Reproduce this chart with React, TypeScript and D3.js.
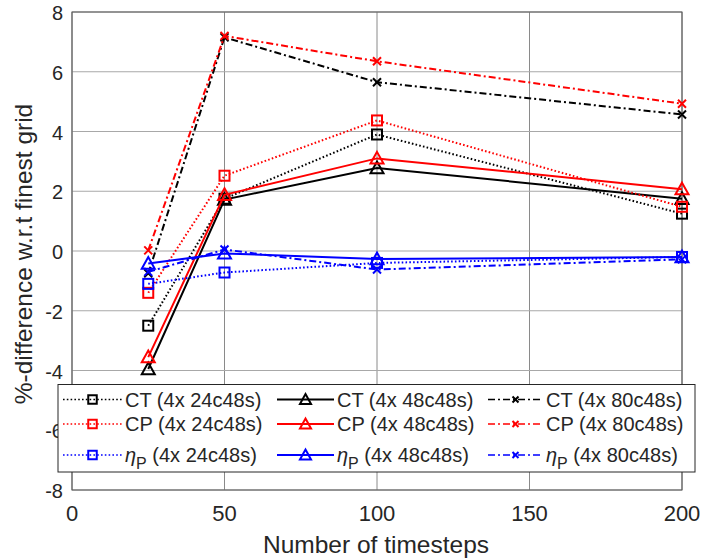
import React from "react";
import * as d3 from "d3";

const xs = [25, 50, 100, 200];
const ct24 = [-2.5, 1.75, 3.9, 1.25];
const cp24 = [-1.4, 2.52, 4.37, 1.48];
const eta24 = [-1.1, -0.72, -0.4, -0.2];
const ct48 = [-3.95, 1.72, 2.78, 1.75];
const cp48 = [-3.55, 1.88, 3.1, 2.07];
const eta48 = [-0.42, -0.08, -0.27, -0.2];
const ct80 = [-0.75, 7.15, 5.65, 4.57];
const cp80 = [0.02, 7.2, 6.35, 4.93];
const eta80 = [-0.7, 0.05, -0.62, -0.28];
const xTicks = [0, 50, 100, 150, 200];
const yTicks = [-8, -6, -4, -2, 0, 2, 4, 6, 8];

type S = { name: string; sub?: boolean; cfg: string; vals: number[]; color: string; style: string; marker: string };
const series: S[] = [
  { name: "CT", cfg: "(4x 24c48s)", vals: ct24, color: "#000", style: "dot", marker: "square" },
  { name: "CT", cfg: "(4x 48c48s)", vals: ct48, color: "#000", style: "solid", marker: "tri" },
  { name: "CT", cfg: "(4x 80c48s)", vals: ct80, color: "#000", style: "dashdot", marker: "x" },
  { name: "CP", cfg: "(4x 24c48s)", vals: cp24, color: "#ff0000", style: "dot", marker: "square" },
  { name: "CP", cfg: "(4x 48c48s)", vals: cp48, color: "#ff0000", style: "solid", marker: "tri" },
  { name: "CP", cfg: "(4x 80c48s)", vals: cp80, color: "#ff0000", style: "dashdot", marker: "x" },
  { name: "η", sub: true, cfg: "(4x 24c48s)", vals: eta24, color: "#0000ff", style: "dot", marker: "square" },
  { name: "η", sub: true, cfg: "(4x 48c48s)", vals: eta48, color: "#0000ff", style: "solid", marker: "tri" },
  { name: "η", sub: true, cfg: "(4x 80c48s)", vals: eta80, color: "#0000ff", style: "dashdot", marker: "x" },
];

const dashOf = (s: string) => (s === "dot" ? "1.6,2.2" : s === "dashdot" ? "7,3,2,3" : undefined);

function Marker({ x, y, type, color, big = true }: { x: number; y: number; type: string; color: string; big?: boolean }) {
  const k = big ? 1 : 0.85;
  if (type === "square") {
    const h = 5 * k;
    return <rect x={x - h} y={y - h} width={2 * h} height={2 * h} fill="none" stroke={color} strokeWidth={2} />;
  }
  if (type === "tri") {
    const h = 6.5 * k;
    return <path d={`M${x},${y - h}L${x + h},${y + h * 0.8}L${x - h},${y + h * 0.8}Z`} fill="none" stroke={color} strokeWidth={2} />;
  }
  const h = big ? 4 : 3;
  return <path d={`M${x - h},${y - h}L${x + h},${y + h}M${x - h},${y + h}L${x + h},${y - h}`} stroke={color} strokeWidth={2} />;
}

export default function App() {
  const W = 702, H = 559;
  const L = 72, R = 682, T = 12, B = 490;
  const x = d3.scaleLinear().domain([0, 200]).range([L, R]);
  const y = d3.scaleLinear().domain([-8, 8]).range([B, T]);
  const line = d3.line<number>().x((_, i) => x(xs[i])).y((d) => y(d));
  const font = "Liberation Sans, Arial, sans-serif";
  const tc = "#262626";

  const legX = [63, 277, 488];
  const legLen = [59, 57, 55];
  const legY = [399.5, 424, 455];
  const order = [0, 3, 6, 1, 4, 7, 2, 5, 8]; // column-major
  return (
    <svg width={W} height={H} style={{ position: "absolute", left: 0, top: 0, background: "#fff" }} fontFamily={font}>
      <rect x={0} y={0} width={W} height={H} fill="#fff" />
      {xTicks.map((t) => (
        <line key={"gx" + t} x1={x(t)} x2={x(t)} y1={T} y2={B} stroke="#8a8a8a" strokeWidth={1} />
      ))}
      {yTicks.map((t) => (
        <line key={"gy" + t} x1={L} x2={R} y1={y(t)} y2={y(t)} stroke="#a8a8a8" strokeWidth={1.2} />
      ))}
      <rect x={L} y={T} width={R - L} height={B - T} fill="none" stroke="#555" strokeWidth={1} />
      {xTicks.map((t) => (
        <text key={"xt" + t} x={x(t)} y={B + 31} textAnchor="middle" fontSize={22} fill={tc}>{t}</text>
      ))}
      {yTicks.map((t) => (
        <text key={"yt" + t} x={L - 9} y={y(t) + 8} textAnchor="end" fontSize={20} fill={tc}>{t}</text>
      ))}
      <text x={376} y={553} textAnchor="middle" fontSize={24.5} fill={tc}>Number of timesteps</text>
      <text transform={`translate(32,254) rotate(-90)`} textAnchor="middle" fontSize={24.5} fill={tc}>%-difference w.r.t finest grid</text>
      {series.map((s, i) => (
        <g key={"s" + i}>
          <path d={line(s.vals) || ""} fill="none" stroke={s.color} strokeWidth={2} strokeDasharray={dashOf(s.style)} />
          {s.vals.map((v, j) => (
            <Marker key={j} x={x(xs[j])} y={y(v)} type={s.marker} color={s.color} />
          ))}
        </g>
      ))}
      <rect x={58} y={384.5} width={637} height={87.5} fill="#fff" stroke="#262626" strokeWidth={1} />
      {order.map((si, k) => {
        const s = series[si];
        const col = Math.floor(k / 3), row = k % 3;
        const lx = legX[col], ly = legY[row], len = legLen[col];
        return (
          <g key={"l" + k}>
            <line x1={lx} x2={lx + len} y1={ly} y2={ly} stroke={s.color} strokeWidth={s.style === "solid" ? 2 : 1.5} strokeDasharray={dashOf(s.style)} />
            <Marker x={lx + len / 2} y={ly} type={s.marker} color={s.color} big={false} />
            <text x={lx + len + 3} y={ly + 7} fontSize={20} fill={tc}>
              {s.sub ? (
                <>
                  <tspan fontStyle="italic">η</tspan>
                  <tspan fontSize={16} dy={7}>P</tspan>
                  <tspan dy={-7}>{" " + s.cfg}</tspan>
                </>
              ) : (
                s.name + " " + s.cfg
              )}
            </text>
          </g>
        );
      })}
    </svg>
  );
}
